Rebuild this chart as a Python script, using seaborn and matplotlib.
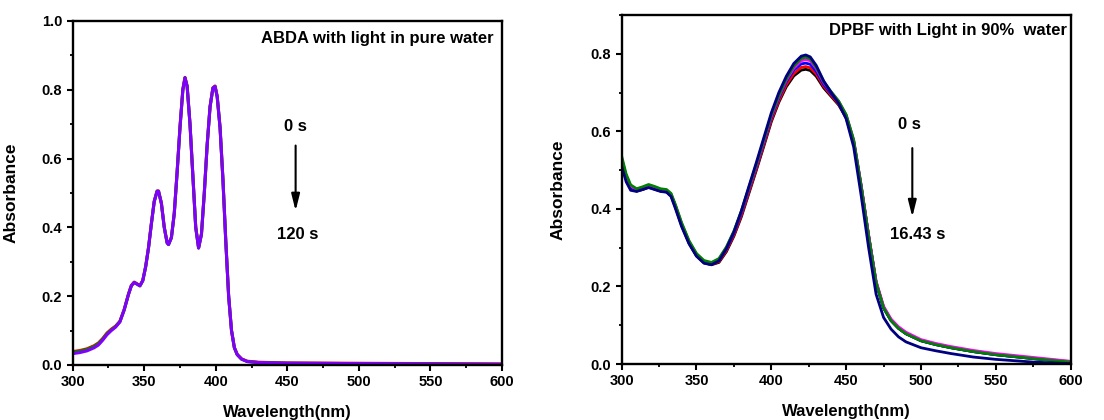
import numpy as np
import pandas as pd
import matplotlib
matplotlib.use("Agg")
import matplotlib.pyplot as plt
from matplotlib.ticker import MultipleLocator
import seaborn as sns

# ---------------- data: ABDA (left) ----------------
abda_wl = [300, 305, 310, 315, 318, 321, 324, 327, 330, 333, 336, 339, 341, 343, 345, 347,
           349, 351, 353, 355, 357, 359, 360, 362, 364, 366, 367, 369, 371, 373, 375, 377,
           378.5, 380, 382, 384, 386, 388, 390, 392, 394, 396, 398, 399.5, 401, 403, 405,
           407, 409, 411, 413, 415, 418, 422, 430, 450, 500, 550, 600]
abda_violet = [0.033, 0.036, 0.041, 0.050, 0.058, 0.072, 0.088, 0.100, 0.110, 0.125, 0.160, 0.205,
               0.230, 0.240, 0.235, 0.230, 0.245, 0.285, 0.340, 0.410, 0.475, 0.505, 0.505, 0.470,
               0.400, 0.355, 0.350, 0.370, 0.440, 0.560, 0.690, 0.800, 0.835, 0.810, 0.700, 0.550,
               0.400, 0.340, 0.380, 0.500, 0.640, 0.750, 0.805, 0.810, 0.780, 0.690, 0.540, 0.360,
               0.200, 0.100, 0.050, 0.030, 0.017, 0.010, 0.007, 0.005, 0.004, 0.003, 0.002]
abda_red = [0.039, 0.042, 0.047, 0.056, 0.064, 0.077, 0.093, 0.104, 0.113, 0.127, 0.161, 0.206,
            0.231, 0.241, 0.236, 0.231, 0.246, 0.286, 0.341, 0.411, 0.476, 0.506, 0.506, 0.471,
            0.401, 0.356, 0.351, 0.371, 0.441, 0.561, 0.691, 0.801, 0.836, 0.811, 0.701, 0.551,
            0.401, 0.341, 0.381, 0.501, 0.641, 0.751, 0.806, 0.811, 0.781, 0.691, 0.541, 0.361,
            0.201, 0.101, 0.051, 0.031, 0.018, 0.011, 0.008, 0.006, 0.005, 0.004, 0.003]
abda_green = [0.037, 0.040, 0.045, 0.054, 0.062, 0.075, 0.091, 0.102, 0.112, 0.126, 0.160, 0.205,
              0.230, 0.240, 0.235, 0.230, 0.245, 0.285, 0.340, 0.410, 0.475, 0.505, 0.505, 0.470,
              0.400, 0.355, 0.350, 0.370, 0.440, 0.560, 0.690, 0.800, 0.835, 0.810, 0.700, 0.550,
              0.400, 0.340, 0.380, 0.500, 0.640, 0.750, 0.805, 0.810, 0.780, 0.690, 0.540, 0.360,
              0.200, 0.100, 0.050, 0.030, 0.017, 0.010, 0.007, 0.005, 0.004, 0.003, 0.002]
abda_colors = ["#FF0000", "#008000", "#8000FF"]

# ---------------- data: DPBF (right) ----------------
dpbf_wl = [300, 303, 306, 310, 314, 318, 322, 326, 330, 333, 336, 340, 345, 350, 355, 360, 365,
           370, 375, 380, 385, 390, 395, 400, 405, 410, 415, 420, 423, 426, 430, 435, 440, 445,
           450, 455, 460, 465, 470, 475, 480, 485, 490, 500, 510, 520, 535, 550, 575, 600]
dpbf_black = [0.520, 0.478, 0.452, 0.446, 0.450, 0.456, 0.451, 0.446, 0.444, 0.434, 0.404, 0.358,
              0.312, 0.279, 0.261, 0.256, 0.262, 0.290, 0.330, 0.380, 0.440, 0.500, 0.562, 0.625,
              0.675, 0.715, 0.743, 0.758, 0.760, 0.757, 0.742, 0.712, 0.690, 0.668, 0.635, 0.572,
              0.458, 0.330, 0.210, 0.145, 0.112, 0.092, 0.078, 0.060, 0.050, 0.042, 0.032, 0.024,
              0.014, 0.005]
dpbf_red = [0.522, 0.480, 0.454, 0.447, 0.451, 0.457, 0.452, 0.447, 0.445, 0.435, 0.405, 0.359,
            0.313, 0.280, 0.262, 0.257, 0.264, 0.293, 0.333, 0.384, 0.444, 0.504, 0.566, 0.629,
            0.679, 0.720, 0.749, 0.765, 0.767, 0.764, 0.748, 0.716, 0.693, 0.670, 0.637, 0.573,
            0.459, 0.331, 0.211, 0.146, 0.113, 0.093, 0.079, 0.061, 0.051, 0.043, 0.033, 0.025,
            0.015, 0.006]
dpbf_blue = [0.526, 0.483, 0.456, 0.449, 0.453, 0.459, 0.454, 0.449, 0.447, 0.437, 0.407, 0.361,
             0.315, 0.282, 0.264, 0.259, 0.268, 0.297, 0.338, 0.390, 0.450, 0.510, 0.572, 0.636,
             0.686, 0.728, 0.758, 0.774, 0.776, 0.773, 0.755, 0.721, 0.697, 0.674, 0.640, 0.575,
             0.459, 0.330, 0.210, 0.145, 0.112, 0.092, 0.078, 0.060, 0.050, 0.042, 0.032, 0.024,
             0.014, 0.005]
dpbf_magenta = [0.530, 0.486, 0.459, 0.450, 0.455, 0.461, 0.456, 0.450, 0.448, 0.438, 0.408, 0.363,
                0.316, 0.283, 0.265, 0.260, 0.270, 0.300, 0.341, 0.393, 0.453, 0.513, 0.576, 0.640,
                0.690, 0.732, 0.763, 0.782, 0.785, 0.782, 0.762, 0.726, 0.701, 0.677, 0.642, 0.578,
                0.462, 0.333, 0.214, 0.149, 0.116, 0.096, 0.082, 0.063, 0.053, 0.045, 0.035, 0.027,
                0.017, 0.007]
dpbf_green = [0.536, 0.490, 0.462, 0.452, 0.457, 0.463, 0.458, 0.452, 0.450, 0.440, 0.410, 0.365,
              0.318, 0.285, 0.267, 0.262, 0.272, 0.302, 0.343, 0.395, 0.455, 0.515, 0.578, 0.642,
              0.692, 0.735, 0.768, 0.788, 0.791, 0.787, 0.765, 0.728, 0.702, 0.678, 0.643, 0.578,
              0.460, 0.330, 0.210, 0.145, 0.112, 0.092, 0.078, 0.060, 0.050, 0.042, 0.032, 0.024,
              0.014, 0.005]
dpbf_navy = [0.510, 0.470, 0.448, 0.445, 0.450, 0.455, 0.450, 0.445, 0.443, 0.432, 0.400, 0.355,
             0.310, 0.278, 0.260, 0.256, 0.266, 0.298, 0.340, 0.395, 0.458, 0.520, 0.584, 0.648,
             0.700, 0.742, 0.775, 0.794, 0.797, 0.792, 0.770, 0.730, 0.700, 0.672, 0.632, 0.560,
             0.435, 0.300, 0.180, 0.120, 0.090, 0.070, 0.057, 0.042, 0.034, 0.027, 0.018, 0.012,
             0.005, 0.001]
dpbf_colors = ["#000000", "#FF0000", "#0000FF", "#FF00FF", "#008000", "#000080"]

xticks = [300, 350, 400, 450, 500, 550, 600]

# ---------------- style ----------------
sns.set_style("ticks")
plt.rcParams['font.family'] = ['Liberation Sans', 'DejaVu Sans']
plt.rcParams['font.weight'] = 'bold'
plt.rcParams['axes.labelweight'] = 'bold'
plt.rcParams['text.color'] = 'black'
plt.rcParams['axes.labelcolor'] = 'black'

fig = plt.figure(figsize=(11.04, 4.2), dpi=100)
ax1 = fig.add_axes([0.0658, 0.131, 0.3889, 0.819])
ax2 = fig.add_axes([0.5631, 0.1333, 0.4067, 0.8309])

def style_axes(ax, ymax):
    ax.set_xlim(300, 600)
    ax.set_ylim(0, ymax)
    ax.set_xticks(xticks)
    ax.xaxis.set_minor_locator(MultipleLocator(25))
    ax.yaxis.set_major_locator(MultipleLocator(0.2))
    ax.yaxis.set_minor_locator(MultipleLocator(0.1))
    ax.yaxis.set_major_formatter(matplotlib.ticker.FormatStrFormatter('%.1f'))
    for s in ax.spines.values():
        s.set_linewidth(1.7)
        s.set_color('black')
    ax.tick_params(axis='both', which='major', direction='out', length=4, width=1.5,
                   labelsize=10.5, color='black', labelcolor='black')
    ax.tick_params(axis='both', which='minor', direction='out', length=2.5, width=1.3,
                   color='black')
    for lbl in ax.get_xticklabels() + ax.get_yticklabels():
        lbl.set_fontweight('bold')
    ax.set_xlabel('Wavelength(nm)', fontsize=12, fontweight='bold', color='black')
    ax.set_ylabel('Absorbance', fontsize=12.5, fontweight='bold', color='black')

# left panel
for vals, c in zip([abda_red, abda_green, abda_violet], abda_colors):
    sns.lineplot(x=abda_wl, y=vals, ax=ax1, color=c, lw=2.2, sort=False)
style_axes(ax1, 1.0)
ax1.set_yticks([0.0, 0.2, 0.4, 0.6, 0.8, 1.0])
ax1.yaxis.set_label_coords(-0.127, 0.5)
ax1.xaxis.set_label_coords(0.5, -0.115)
ax1.text(0.981, 0.948, 'ABDA with light in pure water', transform=ax1.transAxes,
         ha='right', va='center', fontsize=12, fontweight='bold', color='black')
ax1.text(455.8, 0.692, '0 s', ha='center', va='center', fontsize=12, fontweight='bold', color='black')
ax1.annotate('', xy=(455.8, 0.44), xytext=(455.8, 0.646),
             arrowprops=dict(arrowstyle='-|>,head_length=1.0,head_width=0.25', color='black', lw=1.5))
ax1.text(457, 0.378, '120 s', ha='center', va='center', fontsize=12, fontweight='bold', color='black')

# right panel
for vals, c in zip([dpbf_black, dpbf_red, dpbf_blue, dpbf_magenta, dpbf_green, dpbf_navy], dpbf_colors):
    sns.lineplot(x=dpbf_wl, y=vals, ax=ax2, color=c, lw=2.0, sort=False)
style_axes(ax2, 0.9)
ax2.set_yticks([0.0, 0.2, 0.4, 0.6, 0.8])
ax2.yaxis.set_label_coords(-0.126, 0.5)
ax2.xaxis.set_label_coords(0.5, -0.115)
ax2.text(0.991, 0.957, 'DPBF with Light in 90%  water', transform=ax2.transAxes,
         ha='right', va='center', fontsize=12, fontweight='bold', color='black')
ax2.text(492.6, 0.617, '0 s', ha='center', va='center', fontsize=12, fontweight='bold', color='black')
ax2.annotate('', xy=(494.2, 0.372), xytext=(494.2, 0.564),
             arrowprops=dict(arrowstyle='-|>,head_length=1.0,head_width=0.25', color='black', lw=1.5))
ax2.text(497.5, 0.335, '16.43 s', ha='center', va='center', fontsize=12, fontweight='bold', color='black')

fig.savefig('out.png', dpi=100, facecolor='white')
